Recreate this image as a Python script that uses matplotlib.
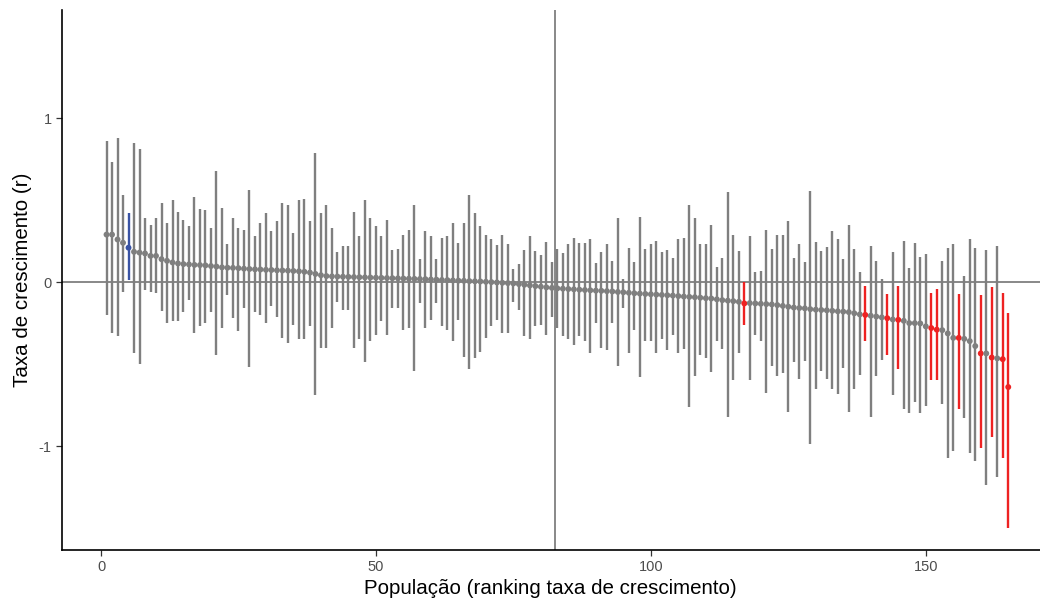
import numpy as np
import matplotlib
matplotlib.use("Agg")
import matplotlib.pyplot as plt

plt.rcParams['font.family'] = ['Liberation Sans', 'DejaVu Sans']
plt.rcParams['axes.unicode_minus'] = False

# estimated growth rate (r) per population, ranked
r_est = [0.29, 0.29, 0.26, 0.24, 0.21, 0.185, 0.18, 0.175, 0.16, 0.16,
         0.14, 0.13, 0.12, 0.114, 0.11, 0.108, 0.105, 0.104, 0.102, 0.098,
         0.095, 0.09, 0.088, 0.087, 0.085, 0.082, 0.08, 0.078, 0.077, 0.075,
         0.074, 0.072, 0.071, 0.07, 0.068, 0.066, 0.063, 0.058, 0.05, 0.042,
         0.037, 0.035, 0.034, 0.033, 0.032, 0.031, 0.03, 0.029, 0.028, 0.027,
         0.026, 0.025, 0.024, 0.023, 0.022, 0.021, 0.02, 0.019, 0.018, 0.016,
         0.015, 0.013, 0.012, 0.01, 0.009, 0.008, 0.006, 0.005, 0.004, 0.002,
         0.0, -0.002, -0.004, -0.006, -0.008, -0.012, -0.016, -0.02, -0.024, -0.028,
         -0.032, -0.035, -0.038, -0.04, -0.042, -0.044, -0.046, -0.048, -0.05, -0.052,
         -0.053, -0.055, -0.057, -0.06, -0.062, -0.065, -0.068, -0.07, -0.072, -0.074,
         -0.076, -0.078, -0.08, -0.082, -0.085, -0.088, -0.09, -0.092, -0.095, -0.098,
         -0.1, -0.105, -0.11, -0.113, -0.116, -0.12, -0.13, -0.128, -0.13, -0.132,
         -0.134, -0.136, -0.14, -0.145, -0.15, -0.155, -0.158, -0.16, -0.165, -0.168,
         -0.17, -0.172, -0.175, -0.178, -0.18, -0.183, -0.19, -0.197, -0.2, -0.205,
         -0.21, -0.215, -0.22, -0.228, -0.23, -0.236, -0.25, -0.25, -0.252, -0.27,
         -0.28, -0.29, -0.293, -0.313, -0.34, -0.34, -0.346, -0.36, -0.39, -0.435,
         -0.435, -0.46, -0.465, -0.47, -0.64]

# upper confidence limits
r_hi = [0.86, 0.73, 0.88, 0.53, 0.42, 0.85, 0.81, 0.39, 0.35, 0.39,
        0.48, 0.36, 0.50, 0.43, 0.38, 0.34, 0.52, 0.445, 0.44, 0.33,
        0.68, 0.455, 0.235, 0.39, 0.33, 0.32, 0.56, 0.28, 0.36, 0.42,
        0.31, 0.37, 0.48, 0.47, 0.30, 0.50, 0.51, 0.37, 0.785, 0.42,
        0.47, 0.33, 0.185, 0.22, 0.22, 0.43, 0.28, 0.50, 0.39, 0.34,
        0.28, 0.38, 0.195, 0.205, 0.29, 0.32, 0.47, 0.14, 0.31, 0.28,
        0.14, 0.27, 0.28, 0.36, 0.24, 0.36, 0.53, 0.42, 0.34, 0.29,
        0.26, 0.225, 0.29, 0.235, 0.08, 0.11, 0.195, 0.28, 0.19, 0.165,
        0.245, 0.12, 0.205, 0.175, 0.23, 0.27, 0.24, 0.24, 0.26, 0.114,
        0.185, 0.23, 0.128, 0.39, 0.018, 0.21, 0.12, 0.40, 0.20, 0.23,
        0.25, 0.185, 0.195, 0.148, 0.266, 0.27, 0.47, 0.39, 0.235, 0.23,
        0.35, 0.093, 0.148, 0.55, 0.287, 0.19, 0.0, 0.28, 0.063, 0.07,
        0.317, 0.205, 0.29, 0.287, 0.37, 0.148, 0.23, 0.12, 0.555, 0.246,
        0.19, 0.215, 0.31, 0.26, 0.144, 0.35, 0.205, 0.063, -0.024, 0.22,
        0.13, 0.022, -0.07, 0.185, -0.023, 0.25, 0.087, 0.24, 0.154, 0.169,
        -0.065, -0.045, 0.128, 0.21, 0.23, -0.073, 0.04, 0.26, 0.21, -0.08,
        0.195, -0.028, 0.22, -0.065, -0.19]

# lower confidence limits
r_lo = [-0.20, -0.31, -0.33, -0.06, 0.01, -0.43, -0.50, -0.05, -0.06, -0.065,
        -0.175, -0.25, -0.24, -0.24, -0.18, -0.11, -0.31, -0.27, -0.25, -0.18,
        -0.445, -0.28, -0.08, -0.22, -0.30, -0.155, -0.52, -0.18, -0.20, -0.25,
        -0.145, -0.21, -0.34, -0.37, -0.26, -0.35, -0.35, -0.27, -0.69, -0.40,
        -0.40, -0.28, -0.12, -0.17, -0.17, -0.40, -0.35, -0.49, -0.36, -0.32,
        -0.24, -0.32, -0.16, -0.16, -0.29, -0.28, -0.54, -0.13, -0.28, -0.23,
        -0.125, -0.27, -0.29, -0.36, -0.23, -0.455, -0.53, -0.465, -0.425, -0.34,
        -0.27, -0.23, -0.31, -0.31, -0.12, -0.17, -0.33, -0.35, -0.27, -0.26,
        -0.32, -0.21, -0.28, -0.33, -0.35, -0.385, -0.33, -0.36, -0.43, -0.25,
        -0.40, -0.415, -0.25, -0.51, -0.16, -0.435, -0.29, -0.58, -0.36, -0.36,
        -0.435, -0.35, -0.415, -0.32, -0.43, -0.41, -0.76, -0.57, -0.445, -0.465,
        -0.55, -0.36, -0.41, -0.82, -0.60, -0.435, -0.26, -0.60, -0.32, -0.36,
        -0.675, -0.51, -0.57, -0.557, -0.79, -0.486, -0.59, -0.48, -0.99, -0.65,
        -0.54, -0.59, -0.65, -0.685, -0.526, -0.79, -0.65, -0.567, -0.36, -0.825,
        -0.57, -0.475, -0.445, -0.69, -0.527, -0.777, -0.80, -0.73, -0.80, -0.754,
        -0.60, -0.60, -0.746, -1.07, -1.03, -0.774, -0.83, -1.04, -1.09, -1.01,
        -1.24, -0.947, -1.19, -1.075, -1.50]

# populations flagged as increasing (blue) or declining (red)
increasing = [5]
declining = [117, 139, 143, 145, 151, 152, 156, 160, 162, 164, 165]

rank = np.arange(1, len(r_est) + 1)
grey = "#7f7f7f"
colors = []
for i in rank:
    if i in increasing:
        colors.append("#3953a4")
    elif i in declining:
        colors.append("#ee2222")
    else:
        colors.append(grey)

fig = plt.figure(figsize=(10.4, 6.02), dpi=100)
ax = fig.add_axes([0.0596, 0.0864, 0.940, 0.897])

ax.axhline(0, color=grey, lw=1.3, zorder=1)
ax.axvline(82.5, color=grey, lw=1.3, zorder=1)

ax.vlines(rank, r_lo, r_hi, colors=colors, lw=1.7, zorder=2)
ax.scatter(rank, r_est, c=colors, s=18, zorder=3, linewidths=0)

ax.set_xlim(-7.1, 170.7)
ax.set_ylim(-1.634, 1.66)
ax.set_xticks([0, 50, 100, 150])
ax.set_yticks([-1, 0, 1])

for side in ["top", "right"]:
    ax.spines[side].set_visible(False)
for side in ["left", "bottom"]:
    ax.spines[side].set_linewidth(1.2)
    ax.spines[side].set_color("black")
ax.tick_params(axis="both", colors="#333333", labelcolor="#4d4d4d",
               labelsize=10.5, length=4, width=0.9)

ax.set_xlabel("População (ranking taxa de crescimento)", fontsize=14.8, labelpad=3)
ax.set_ylabel("Taxa de crescimento (r)", fontsize=14.8, labelpad=5)

fig.savefig("out.png", dpi=100)
